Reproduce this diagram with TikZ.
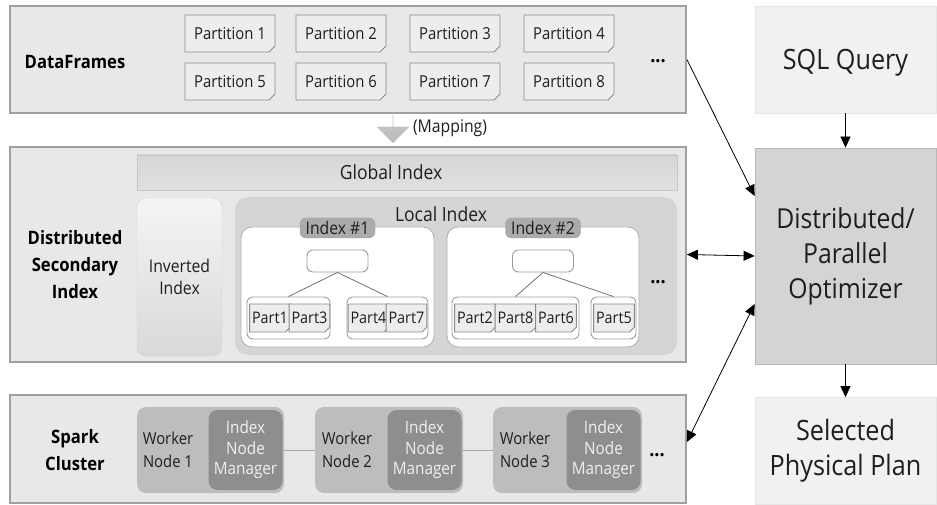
\documentclass[tikz,border=0pt]{standalone}
\usepackage{fontspec}
\setmainfont{Open Sans}[FakeStretch=0.9]
\usepackage{xcolor}
\usepackage{tikz}
\usetikzlibrary{positioning,%
  arrows.meta,%
  shapes.misc,%
  shapes.arrows
}

\definecolor{panelfill}{HTML}{E8E8E8}
\definecolor{paneldraw}{HTML}{A0A0A0}
\definecolor{partfill}{HTML}{EDEDED}
\definecolor{partdraw}{HTML}{8A8A8A}
\definecolor{localfill}{HTML}{D5D5D5}
\definecolor{tagfill}{HTML}{ABABAB}
\definecolor{workerfill}{HTML}{BDBDBD}
\definecolor{managerfill}{HTML}{8E8E8E}
\definecolor{optfill}{HTML}{D4D4D4}
\definecolor{boxfill}{HTML}{F1F1F1}
\definecolor{textdark}{HTML}{1E1E1E}

\tikzset{
  panel/.style={draw=paneldraw, line width=1.8pt, fill=panelfill,
    minimum width=676, minimum height=#1, inner sep=0pt},
  paneltitle/.style={align=center, text=black,
    font=\fontsize{18.5}{27}\selectfont\bfseries},
  partition/.style={chamfered rectangle, chamfered rectangle corners=south east,
    chamfered rectangle xsep=3pt, chamfered rectangle ysep=3pt,
    draw=partdraw, line width=0.9pt, fill=partfill, text=textdark,
    minimum width=90, minimum height=37, inner sep=0pt,
    font=\fontsize{16.5}{18}\selectfont},
  part/.style={partition, minimum width=37, minimum height=28,
    chamfered rectangle xsep=2.5pt, chamfered rectangle ysep=2.5pt,
    font=\fontsize{16}{18}\selectfont},
  dots/.style={font=\fontsize{20}{20}\selectfont\bfseries, inner sep=0pt},
  mapping/.style={single arrow, shape border rotate=270, draw=none,
    top color=gray!40, bottom color=gray!55,
    minimum height=30, minimum width=33, single arrow head extend=6.5pt,
    single arrow head indent=0pt, inner sep=0pt},
  globalbar/.style={draw=gray!45, top color=gray!32, bottom color=gray!24,
    minimum width=540, minimum height=35, inner sep=0pt,
    font=\fontsize{19.5}{20}\selectfont, text=textdark},
  inverted/.style={draw=gray!35, rounded corners=9pt,
    top color=gray!8, bottom color=gray!30,
    minimum width=85, minimum height=158, inner sep=0pt, align=center,
    font=\fontsize{17.5}{22}\selectfont, text=textdark},
  localbox/.style={fill=localfill, draw=none, rounded corners=13pt,
    minimum width=442, minimum height=158, inner sep=0pt},
  indexbox/.style={fill=white, draw=gray!60, line width=0.9pt, rounded corners=11pt,
    minimum width=193, minimum height=120, inner sep=0pt},
  indextag/.style={fill=tagfill, draw=gray!75, rounded corners=6pt,
    minimum width=75, minimum height=20, inner sep=0pt,
    font=\fontsize{17.5}{18}\selectfont, text=textdark},
  rootbox/.style={fill=white, draw=gray!80, line width=0.9pt, rounded corners=6pt,
    minimum width=61, minimum height=22, inner sep=0pt},
  group/.style={fill=white, draw=gray!75, line width=0.9pt, rounded corners=6pt,
    minimum height=42, inner sep=0pt},
  treeline/.style={draw=gray!90!black, line width=0.8pt},
  worker/.style={fill=workerfill, draw=none, rounded corners=9pt,
    minimum height=86, inner sep=0pt},
  manager/.style={fill=managerfill, draw=none, rounded corners=9pt,
    minimum width=74, minimum height=80, inner sep=0pt, align=center,
    text=white!94!black, font=\fontsize{17}{20.5}\selectfont},
  workertext/.style={align=center, text=textdark, inner sep=0pt,
    font=\fontsize{16.5}{23}\selectfont},
  sidebox/.style={fill=boxfill, draw=gray!20, line width=0.8pt,
    minimum width=181, minimum height=#1, inner sep=0pt, align=center,
    font=\fontsize{28}{35}\selectfont, text=textdark},
  optbox/.style={fill=optfill, draw=gray!55, line width=0.8pt,
    minimum width=181, minimum height=216, inner sep=0pt, align=center,
    font=\fontsize{27.5}{35}\selectfont, text=textdark},
  link/.style={line width=0.8pt, black}
}

\begin{document}
\begin{tikzpicture}[x=1pt,y=-1pt,>={Triangle[length=11pt,width=10pt]}]
\useasboundingbox (0,0) rectangle (937,505);

% Rahmen links
\node[panel=107] (df) at (348,59.5) {};
\node[panel=215] (dsi) at (348,254.5) {};
\node[panel=108] (spark) at (348,449) {};

\node[paneltitle] (dftitle) at (75,62) {DataFrames};
\node[paneltitle] (dsititle) at (75,265) {Distributed\\Secondary\\Index};
\node[paneltitle] (sparktitle) at (75,450) {Spark\\Cluster};

% Partitionen
\node[partition] (pa1) at (230,33.5) {Partition 1};
\node[partition] (pa2) at (341,33.5) {Partition 2};
\node[partition] (pa3) at (455,33.5) {Partition 3};
\node[partition] (pa4) at (569,33.5) {Partition 4};
\node[partition] (pa5) at (230,81.5) {Partition 5};
\node[partition] (pa6) at (341,81.5) {Partition 6};
\node[partition] (pa7) at (455,81.5) {Partition 7};
\node[partition] (pa8) at (569,81.5) {Partition 8};
\node[dots] (dfdots) at (658,61) {...};

% Mapping
\node[mapping] (map) at (393,128) {};
\node[font=\fontsize{17.5}{18}\selectfont, text=textdark, right=1pt of map] (maplabel) {(Mapping)};

% Index
\node[globalbar] (global) at (407,172.5) {\hspace{-32pt}Global Index};
\node[inverted] (inv) at (179.5,277) {Inverted\\Index};
\node[localbox] (local) at (456,276) {};
\node[font=\fontsize{19.5}{20}\selectfont, text=textdark] (localtitle) at (441,214) {Local Index};

\node[indexbox] (idx1) at (337.5,287) {};
\node[indexbox, minimum width=192] (idx2) at (543,287) {};
\node[indextag] (tag1) at (337.5,228) {Index \#1};
\node[indextag] (tag2) at (543,228) {Index \#2};
\node[rootbox] (root1) at (337.5,261) {};
\node[rootbox] (root2) at (543,261) {};

\node[group, minimum width=83] (g1a) at (288.5,318) {};
\node[group, minimum width=81] (g1b) at (387.5,318) {};
\node[group, minimum width=127] (g2a) at (515.5,318) {};
\node[group, minimum width=45] (g2b) at (613.5,318) {};

\node[part] (p1) at (270,318) {Part1};
\node[part] (p3) at (309.5,318) {Part3};
\node[part] (p4) at (368.5,318) {Part4};
\node[part] (p7) at (406.5,318) {Part7};
\node[part] (p2) at (475,318) {Part2};
\node[part] (p8) at (515.5,318) {Part8};
\node[part] (p6) at (556,318) {Part6};
\node[part] (p5) at (614,318) {Part5};

\draw[treeline] (root1.south) -- (g1a.north);
\draw[treeline] (root1.south) -- (g1b.north);
\draw[treeline] (root2.south) -- (g2a.north);
\draw[treeline] (root2.south) -- (g2b.north);
\node[dots] (idxdots) at (658,282) {...};

% Cluster
\node[worker, minimum width=147] (w1) at (210.5,450) {};
\node[worker, minimum width=148] (w2) at (389,450) {};
\node[worker, minimum width=149] (w3) at (567.5,450) {};
\node[manager] (m1) at (245.5,450) {Index\\Node\\Manager};
\node[manager] (m2) at (424.5,450) {Index\\Node\\Manager};
\node[manager] (m3) at (603.5,450) {Index\\Node\\Manager};
\node[workertext] (wt1) at (168,450) {Worker\\Node 1};
\node[workertext] (wt2) at (347,450) {Worker\\Node 2};
\node[workertext] (wt3) at (525,450) {Worker\\Node 3};
\draw[draw=gray!70, line width=1pt] (w1.east) -- (w2.west);
\draw[draw=gray!70, line width=1pt] (w2.east) -- (w3.west);
\node[dots] (sparkdots) at (657,455) {...};

% Optimierer
\node[sidebox=107, text depth=0pt] (sql) at (845.5,59.5) {SQL Query};
\node[optbox] (opt) at (845.5,256) {Distributed/\\Parallel\\Optimizer};
\node[sidebox=107] (plan) at (845.5,451) {Selected\\Physical Plan};

\draw[link,->] (sql.south) -- (opt.north);
\draw[link,->] (opt.south) -- (plan.north);
\draw[link,->] (df.east) -- ([yshift=60pt]opt.west);
\draw[link,<->] (dsi.east) -- (opt.west);
\draw[link,<->] ([yshift=7pt]spark.east) -- ([yshift=-48pt]opt.west);
\end{tikzpicture}
\end{document}
